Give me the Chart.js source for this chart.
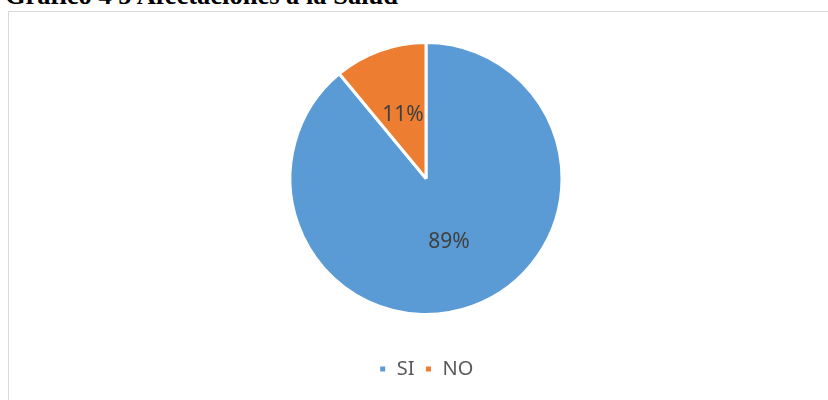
<!DOCTYPE html>
<html>
<head>
<meta charset="utf-8">
<script src="https://cdn.jsdelivr.net/npm/chart.js@4"></script>
<style>
  html, body { margin: 0; padding: 0; background: #fff; overflow: hidden; }
  body { width: 828px; height: 400px; position: relative; }
  #title {
    position: absolute; left: 5px; top: -20px;
    font-family: "Liberation Serif", "Times New Roman", serif;
    font-weight: bold; font-size: 26.5px; line-height: 30px; white-space: nowrap; color: #000;
  }
  #frame {
    position: absolute; left: 8px; top: 11px; width: 900px; height: 500px;
    border: 1px solid #d9d9d9;
  }
  #wrap { position: absolute; left: 0; top: 0; width: 828px; height: 400px; }
</style>
</head>
<body>
<div id="title">Gráfico 4 5 Afectaciones a la Salud</div>
<div id="frame"></div>
<div id="wrap"><canvas id="pieChart"></canvas></div>
<script>
// datos del gráfico
var categorias = ['SI', 'NO'];
var valores = [89, 11];
var colores = ['#5B9BD5', '#ED7D31'];

// etiquetas de porcentaje dentro de cada sector
var etiquetasPlugin = {
    id: 'etiquetas',
    afterDatasetsDraw: function(chart) {
        var ctx = chart.ctx;
        var meta = chart.getDatasetMeta(0);
        var total = valores.reduce(function(a, b) { return a + b; }, 0);
        ctx.save();
        ctx.font = '21px "Noto Sans", sans-serif';
        ctx.fillStyle = '#404040';
        ctx.textAlign = 'center';
        ctx.textBaseline = 'middle';
        meta.data.forEach(function(arc, i) {
            var p = arc.tooltipPosition();
            var pct = Math.round(valores[i] / total * 100) + '%';
            ctx.fillText(pct, p.x, p.y);
        });
        ctx.restore();
    }
};

var ctx = document.getElementById('pieChart').getContext('2d');
new Chart(ctx, {
    type: 'pie',
    data: {
        labels: categorias,
        datasets: [{
            data: valores,
            backgroundColor: colores,
            borderColor: '#ffffff',
            borderWidth: 3,
            radius: 136
        }]
    },
    options: {
        responsive: true,
        maintainAspectRatio: false,
        animation: false,
        layout: { padding: { left: 24, top: 8, bottom: 11 } },
        plugins: {
            legend: {
                position: 'bottom',
                labels: {
                    boxWidth: 8,
                    boxHeight: 8,
                    padding: 10,
                    color: '#595959',
                    font: { family: '"Noto Sans", sans-serif', size: 20 }
                }
            },
            tooltip: { enabled: false }
        }
    },
    plugins: [etiquetasPlugin]
});
</script>
</body>
</html>
